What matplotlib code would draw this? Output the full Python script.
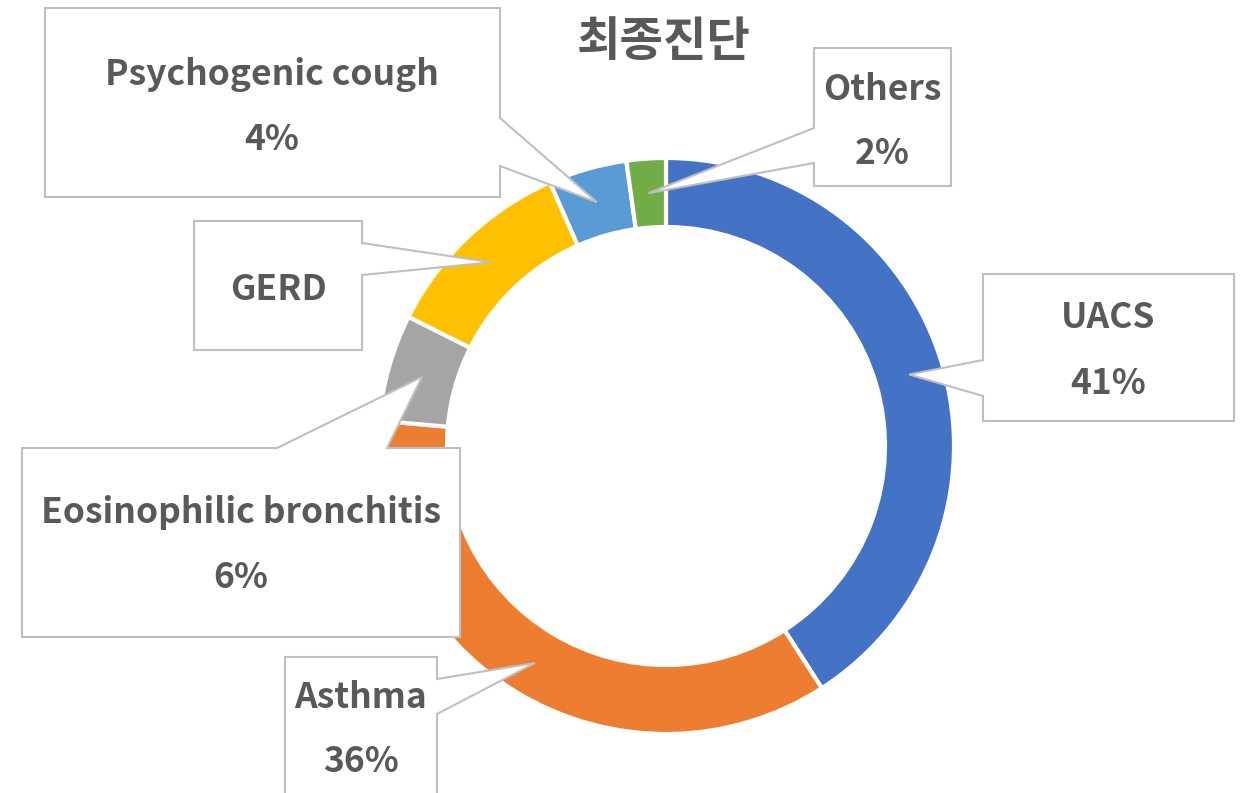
import numpy as np
import matplotlib
matplotlib.use("Agg")
import matplotlib.pyplot as plt
from matplotlib.patches import Polygon

plt.rcParams['font.family'] = ['Noto Sans CJK KR', 'DejaVu Sans']

# data (clockwise from 12 o'clock)
names = ["UACS", "Asthma", "Eosinophilic bronchitis", "GERD", "Psychogenic cough", "Others"]
values = [40.9, 35.5, 6.0, 11.0, 4.4, 2.2]
show_pct = [True, True, True, False, True, True]
colors = ["#4472C4", "#ED7D31", "#A5A5A5", "#FFC000", "#5B9BD5", "#70AD47"]
title = "최종진단"

W, H = 1240, 793
TXT = "#595959"
EDGE = "#BFBFBF"


def fy(y):
    # image-style y (from top) -> data y
    return H - y


fig = plt.figure(figsize=(W / 100, H / 100), dpi=100)
ax = fig.add_axes([0, 0, 1, 1])

wedges, _ = ax.pie(values, colors=colors, startangle=90, counterclock=False,
                   radius=288, center=(666, fy(446)),
                   wedgeprops=dict(width=69, edgecolor="white", linewidth=3))
ax.set_xlim(0, W)
ax.set_ylim(0, H)
ax.set_aspect("equal")
ax.axis("off")

# callout boxes: (left, top, right, bottom), side of pointer, pointer base, label centre
boxes = [
    ((983, 274, 1234, 421), "left", (360, 396), (1108, 318)),
    ((285, 657, 437, 800), "right", (679, 714), (361, 697)),
    ((22, 448, 460, 637), "top", (277, 387), (241, 512)),
    ((194, 221, 362, 350), "right", (243, 275), (278, 289)),
    ((45, 8, 500, 197), "right", (118, 166), (272, 75)),
    ((814, 48, 951, 186), "left", (128, 163), (882, 89)),
]

for w, name, v, sp, (box, side, base, tc) in zip(wedges, names, values, show_pct, boxes):
    mid = np.deg2rad((w.theta1 + w.theta2) / 2)
    rr = w.r - w.width / 2
    tip = (w.center[0] + rr * np.cos(mid), w.center[1] + rr * np.sin(mid))
    l, t, r, b = box
    t, b = fy(t), fy(b)
    p1, p2 = base
    if side == "right":
        pts = [(l, t), (r, t), (r, fy(p1)), tip, (r, fy(p2)), (r, b), (l, b)]
    elif side == "left":
        pts = [(l, t), (r, t), (r, b), (l, b), (l, fy(p2)), tip, (l, fy(p1))]
    else:
        pts = [(l, t), (p1, t), tip, (p2, t), (r, t), (r, b), (l, b)]
    ax.add_patch(Polygon(pts, closed=True, facecolor="white", edgecolor=EDGE,
                         linewidth=1.5, zorder=3))
    ax.text(tc[0], fy(tc[1]), name, ha="center", va="center", fontsize=25.5,
            fontweight="bold", color=TXT, zorder=4)
    if sp:
        ax.text(tc[0], fy(tc[1] + 65), f"{v:.0f}%", ha="center", va="center",
                fontsize=25.5, fontweight="bold", color=TXT, zorder=4)

ax.text(664, fy(42), title, ha="center", va="center", fontsize=34,
        fontweight="bold", color=TXT)

fig.savefig("out.png", dpi=100)
